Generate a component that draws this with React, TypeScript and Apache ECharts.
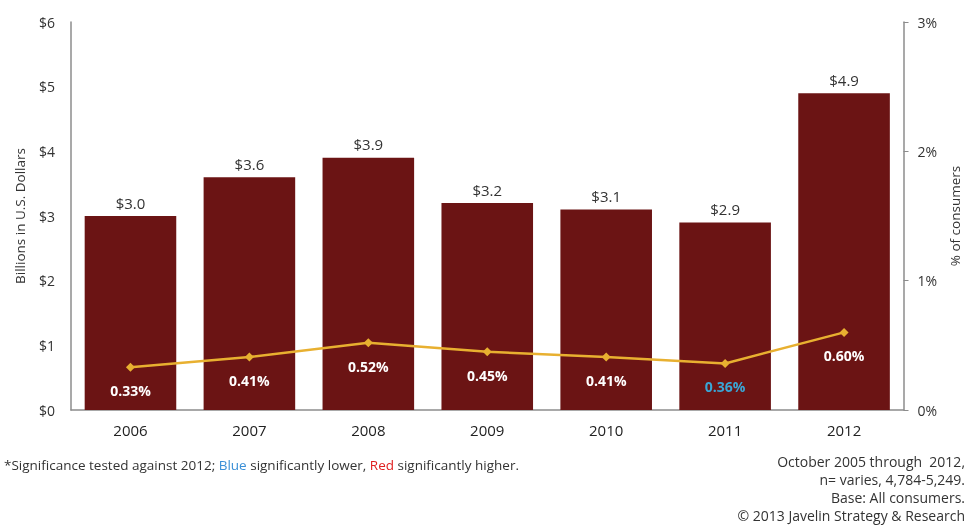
import React, { useEffect, useRef } from "react";
import * as echarts from "echarts";

const years = ["2006", "2007", "2008", "2009", "2010", "2011", "2012"];
const fraudBillions = [3.0, 3.6, 3.9, 3.2, 3.1, 2.9, 4.9];
const pctConsumers = [0.33, 0.41, 0.52, 0.45, 0.41, 0.36, 0.6];
const pctLabelColors = ["#ffffff", "#ffffff", "#ffffff", "#ffffff", "#ffffff", "#3aa6d6", "#ffffff"];
const leftTicks = ["$0", "$1", "$2", "$3", "$4", "$5", "$6"];
const rightTicks = ["0%", "1%", "2%", "3%"];
const footnoteLines = [
  "October 2005 through  2012,",
  "n= varies, 4,784-5,249.",
  "Base: All consumers.",
  "\u00a9 2013 Javelin Strategy & Research",
];

const FONT = "Open Sans";

export default function App() {
  const ref = useRef<HTMLDivElement>(null);
  useEffect(() => {
    if (!ref.current) return;
    const chart = echarts.init(ref.current, null, { renderer: "svg" });
    chart.setOption({
      animation: false,
      textStyle: { fontFamily: FONT },
      grid: { left: 71, right: 64, top: 22, bottom: 121, containLabel: false },
      xAxis: {
        type: "category",
        data: years,
        axisLine: { show: true, lineStyle: { color: "#8c8c8c", width: 1.5 } },
        axisTick: { show: false },
        axisLabel: { color: "#222", fontSize: 15, margin: 12, fontFamily: FONT },
      },
      yAxis: [
        {
          type: "value",
          min: 0,
          max: 6,
          interval: 1,
          name: "Billions in U.S. Dollars",
          nameLocation: "middle",
          nameGap: 44,
          nameRotate: 90,
          nameTextStyle: { color: "#333", fontSize: 13.5, fontFamily: FONT },
          axisLine: { show: true, lineStyle: { color: "#8c8c8c", width: 1.5 } },
          axisTick: { show: false },
          splitLine: { show: false },
          axisLabel: {
            color: "#333",
            fontSize: 14,
            margin: 16,
            fontFamily: FONT,
            formatter: (v: number) => leftTicks[Math.round(v)] ?? "",
          },
        },
        {
          type: "value",
          min: 0,
          max: 3,
          interval: 1,
          position: "right",
          name: "% of consumers",
          nameLocation: "middle",
          nameGap: 42,
          nameRotate: 90,
          nameTextStyle: { color: "#333", fontSize: 13.5, fontFamily: FONT },
          axisLine: { show: true, lineStyle: { color: "#8c8c8c", width: 1.5 } },
          axisTick: { show: true, length: 5, lineStyle: { color: "#8c8c8c" } },
          splitLine: { show: false },
          axisLabel: {
            color: "#333",
            fontSize: 14,
            margin: 14,
            fontFamily: FONT,
            formatter: (v: number) => rightTicks[Math.round(v)] ?? "",
          },
        },
      ],
      series: [
        {
          type: "bar",
          data: fraudBillions,
          barWidth: "77%",
          itemStyle: { color: "#6b1414" },
          label: {
            show: true,
            position: "top",
            distance: 6,
            color: "#333",
            fontSize: 15,
            fontFamily: FONT,
            formatter: (p: any) => "$" + Number(p.value).toFixed(1),
          },
          z: 1,
        },
        {
          type: "line",
          yAxisIndex: 1,
          data: pctConsumers.map((v, i) => ({
            value: v,
            label: { color: pctLabelColors[i] },
          })),
          symbol: "diamond",
          symbolSize: 9,
          lineStyle: { color: "#e8b030", width: 2.5 },
          itemStyle: { color: "#e8b030" },
          label: {
            show: true,
            position: "bottom",
            distance: 12,
            fontSize: 14,
            fontWeight: "bold",
            fontFamily: FONT,
            formatter: (p: any) => Number(p.value).toFixed(2) + "%",
          },
          z: 3,
        },
      ],
      graphic: [
        {
          type: "text",
          left: 4,
          top: 458,
          style: {
            text: "*Significance tested against 2012; {b|Blue} significantly lower, {r|Red} significantly higher.",
            fontSize: 13.5,
            fill: "#333",
            fontFamily: FONT,
            rich: {
              b: { fill: "#3a8fd6", fontSize: 13.5, fontFamily: FONT },
              r: { fill: "#e02020", fontSize: 13.5, fontFamily: FONT },
            },
          },
        },
        ...footnoteLines.map((t, i) => ({
          type: "text",
          right: 5,
          top: 454 + i * 18,
          style: {
            text: t,
            fontSize: 14,
            fill: "#333",
            fontFamily: FONT,
            textAlign: "right",
          },
        })),
      ],
    });
    return () => chart.dispose();
  }, []);
  return (
    <div
      ref={ref}
      style={{ position: "fixed", left: 0, top: 0, width: 970, height: 531 }}
    />
  );
}
